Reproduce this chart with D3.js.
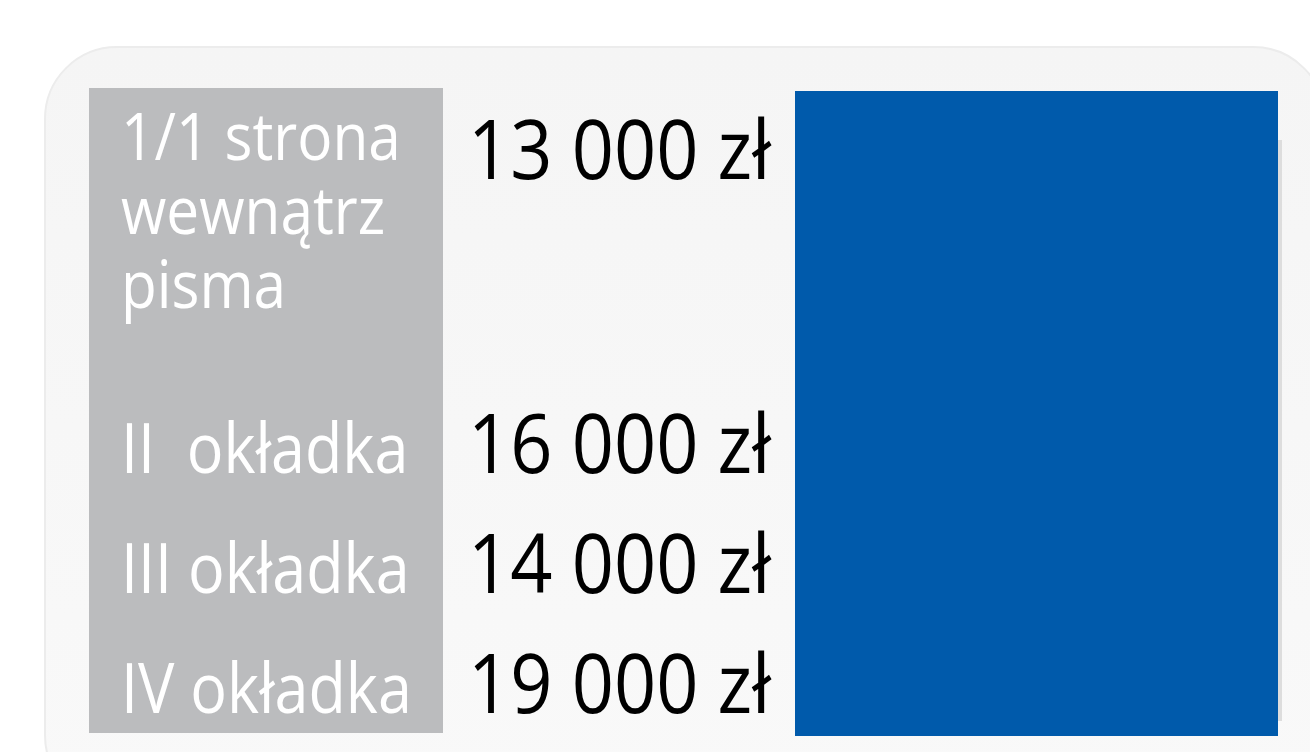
<!DOCTYPE html>
<html>
<head>
<meta charset="utf-8">
<script src="https://cdn.jsdelivr.net/npm/d3@7"></script>
<style>
  html, body { margin: 0; padding: 0; background: #ffffff; overflow: hidden; }
  svg { display: block; }
  text { white-space: pre; }
</style>
</head>
<body>
<div id="cennik"></div>
<script>
// dane cennika
const kategorie = [
  ["1/1 strona", "wewnątrz", "pisma"],
  ["II  okładka"],
  ["III okładka"],
  ["IV okładka"]
];
const ceny = [13000, 16000, 14000, 19000];
const waluta = "zł";

const W = 1310, H = 752;

const svg = d3.select("#cennik")
  .append("svg")
  .attr("width", W)
  .attr("height", H);

const defs = svg.append("defs");
const grad = defs.append("linearGradient")
  .attr("id", "tlo")
  .attr("x1", 0).attr("y1", 0).attr("x2", 0).attr("y2", 1);
grad.append("stop").attr("offset", "0%").attr("stop-color", "#f5f5f5");
grad.append("stop").attr("offset", "100%").attr("stop-color", "#f9f9f9");

// panel z zaokraglonymi rogami
svg.append("rect")
  .attr("x", 45).attr("y", 47)
  .attr("width", 1280).attr("height", 760)
  .attr("rx", 72).attr("ry", 72)
  .style("fill", "url(#tlo)")
  .style("stroke", "#ececec")
  .style("stroke-width", 2);

// kolumna z nazwami
svg.append("rect")
  .attr("x", 89).attr("y", 88)
  .attr("width", 354).attr("height", 645)
  .style("fill", "#bbbcbe");

// niebieski blok (cien + prostokat)
svg.append("rect")
  .attr("x", 1276).attr("y", 140)
  .attr("width", 6).attr("height", 581)
  .style("fill", "#dddddd");
svg.append("rect")
  .attr("x", 795).attr("y", 91)
  .attr("width", 483).attr("height", 645)
  .style("fill", "#005aab");

// pozycje wierszy: pierwszy wiersz ma 3 linie
const rozpietosc = kategorie.map(k => 1 + (k.length - 1) * 0.8);
const start = [];
rozpietosc.reduce((acc, r, i) => { start[i] = acc; return acc + r; }, 0);

const y = d3.scaleLinear()
  .domain([0, d3.sum(rozpietosc) - 1])
  .range([160, 713]);

const lineH = 74;
const formatCena = d => d3.format(",")(d).replace(/,/g, " ") + " " + waluta;

const wiersze = svg.append("g")
  .selectAll("g")
  .data(kategorie.map((k, i) => ({ k, cena: ceny[i], s: start[i] })))
  .enter()
  .append("g");

// nazwy (jeden text, linie jako tspan)
wiersze.each(function(d) {
  const wielo = d.k.length > 1;
  const t = d3.select(this).append("text")
    .style("font-family", "'Open Sans', sans-serif")
    .style("font-size", (wielo ? 65 : 69) + "px")
    .style("fill", "#ffffff");
  d.k.forEach((linia, j) => {
    const ts = t.append("tspan")
      .attr("x", 121)
      .attr("y", y(d.s) + j * lineH)
      .text(linia);
    const w = ts.node().getComputedTextLength();
    ts.attr("textLength", w * (wielo ? 0.9 : 0.885)).attr("lengthAdjust", "spacingAndGlyphs");
  });
});

// ceny
wiersze.append("text")
  .attr("x", 468)
  .attr("y", d => y(d.s) + (d.k.length > 1 ? 19 : 0))
  .style("font-family", "'Open Sans', sans-serif")
  .style("font-size", "83px")
  .style("fill", "#000000")
  .text(d => formatCena(d.cena))
  .each(function() {
    const w = this.getComputedTextLength();
    d3.select(this).attr("textLength", w * 0.89).attr("lengthAdjust", "spacingAndGlyphs");
  });
</script>
</body>
</html>
